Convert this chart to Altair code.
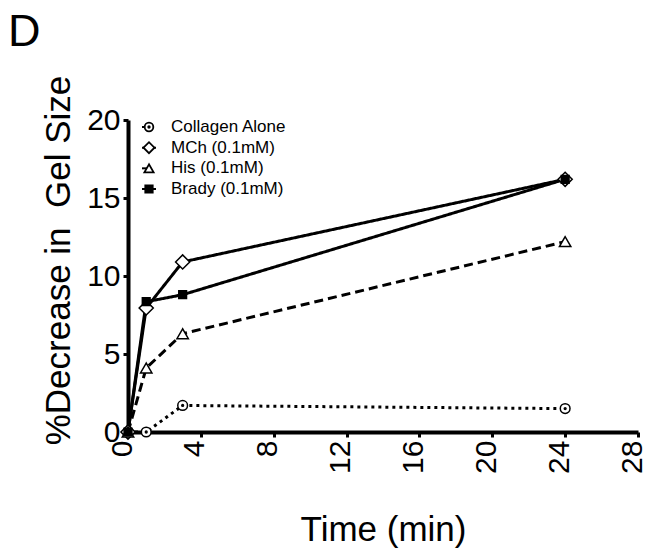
import altair as alt
import pandas as pd

# ---- data ----
time_min = [0, 1, 3, 24]
series_names = ["Collagen Alone", "MCh (0.1mM)", "His (0.1mM)", "Brady (0.1mM)"]
collagen = [0, 0, 1.7, 1.5]
mch = [0, 7.95, 10.9, 16.2]
his = [0, 4.1, 6.3, 12.2]
brady = [0, 8.35, 8.8, 16.2]

x_ticks = [0, 4, 8, 12, 16, 20, 24, 28]
y_ticks = [0, 5, 10, 15, 20]

rows = []
for rank, (name, vals) in enumerate(zip(series_names, [collagen, mch, his, brady])):
    for i, (t, v) in enumerate(zip(time_min, vals)):
        rows.append({"series": name, "time": t, "value": v, "order": i, "rank": rank})
df = pd.DataFrame(rows)
legend_df = pd.DataFrame({"series": series_names})

circle_dot = ("M-1,0A1,1,0,1,1,1,0A1,1,0,1,1,-1,0Z "
              "M-0.18,0A0.18,0.18,0,1,1,0.18,0A0.18,0.18,0,1,1,-0.18,0Z")
shape_range = [circle_dot, "diamond", "triangle-up", "square"]
fill_range = ["white", "white", "white", "black"]
dash_range = [[3, 4], [1, 0], [9, 5], [1, 0]]
marker_sizes = [95, 200, 130, 60]
legend_sizes = [75, 120, 85, 55]

FONT = "Liberation Sans"

shape_scale = alt.Scale(domain=series_names, range=shape_range)
fill_scale = alt.Scale(domain=series_names, range=fill_range)
dash_scale = alt.Scale(domain=series_names, range=dash_range)

x_enc = alt.X("time:Q", scale=alt.Scale(domain=[0, 28], nice=False, zero=False),
              axis=alt.Axis(values=x_ticks, labelAngle=-90, title="Time (min)",
                            titlePadding=39, labelOffset=-6))
y_enc = alt.Y("value:Q", scale=alt.Scale(domain=[0, 20], nice=False),
              axis=alt.Axis(values=y_ticks, title="%Decrease in\u00a0 Gel Size",
                            titlePadding=10, titleY=140))
y_plain = alt.Y("value:Q", scale=alt.Scale(domain=[0, 20], nice=False), axis=None)

base = alt.Chart(df)

lines = base.mark_line(color="black", strokeWidth=3).encode(
    x=x_enc, y=y_enc,
    order="order:Q",
    strokeDash=alt.StrokeDash("series:N", scale=dash_scale, legend=None),
    detail="series:N",
)

point_layers = []
for name, sz in zip(series_names, marker_sizes):
    point_layers.append(
        base.transform_filter(alt.datum.series == name)
        .mark_point(filled=False, stroke="black", strokeWidth=1.5, opacity=1, size=sz)
        .encode(
            x="time:Q", y=y_plain,
            shape=alt.Shape("series:N", scale=shape_scale, legend=None),
            fill=alt.Fill("series:N", scale=fill_scale, legend=None),
        )
    )

# ---- legend drawn inside the plot, top-left ----
leg_y = alt.Y("series:N", axis=None,
              scale=alt.Scale(type="point", domain=series_names, range=[7, 69], padding=0))
lbase = alt.Chart(legend_df)

leg_lines = lbase.mark_rule(color="black", strokeWidth=2).encode(
    x=alt.value(14), x2=alt.value(28), y=leg_y,
    strokeDash=alt.StrokeDash("series:N", scale=alt.Scale(domain=series_names,
                              range=[[2, 3], [1, 0], [4, 3], [1, 0]]), legend=None),
)
leg_pts = []
for name, sz in zip(series_names, legend_sizes):
    leg_pts.append(
        lbase.transform_filter(alt.datum.series == name)
        .mark_point(filled=False, stroke="black", strokeWidth=1.8, opacity=1, size=sz)
        .encode(
            x=alt.value(21), y=leg_y,
            shape=alt.Shape("series:N", scale=shape_scale, legend=None),
            fill=alt.Fill("series:N", scale=fill_scale, legend=None),
        )
    )
leg_text = lbase.mark_text(align="left", baseline="middle", font=FONT, fontSize=17,
                           color="black").encode(
    x=alt.value(43), y=leg_y, text="series:N",
)

chart = alt.layer(lines, *point_layers, leg_lines, *leg_pts, leg_text).resolve_scale(
    y="independent"
).properties(
    width=510, height=312,
    padding={"left": 120, "top": 112, "right": 5, "bottom": 116},
    autosize=alt.AutoSizeParams(type="none"),
    title=alt.TitleParams("D", anchor="start", frame="group", fontSize=45,
                          font=FONT, fontWeight="normal", color="black",
                          dx=-120, offset=20),
).configure_view(stroke=None).configure_axis(
    grid=False,
    domainColor="black", domainWidth=4,
    tickColor="black", tickWidth=3, tickSize=5,
    labelFont=FONT, labelFontSize=30, labelColor="black", labelPadding=3,
    titleFont=FONT, titleFontSize=35, titleFontWeight="normal", titleColor="black",
)

chart.save("out.html", embed_options={"renderer": "svg", "actions": False})
